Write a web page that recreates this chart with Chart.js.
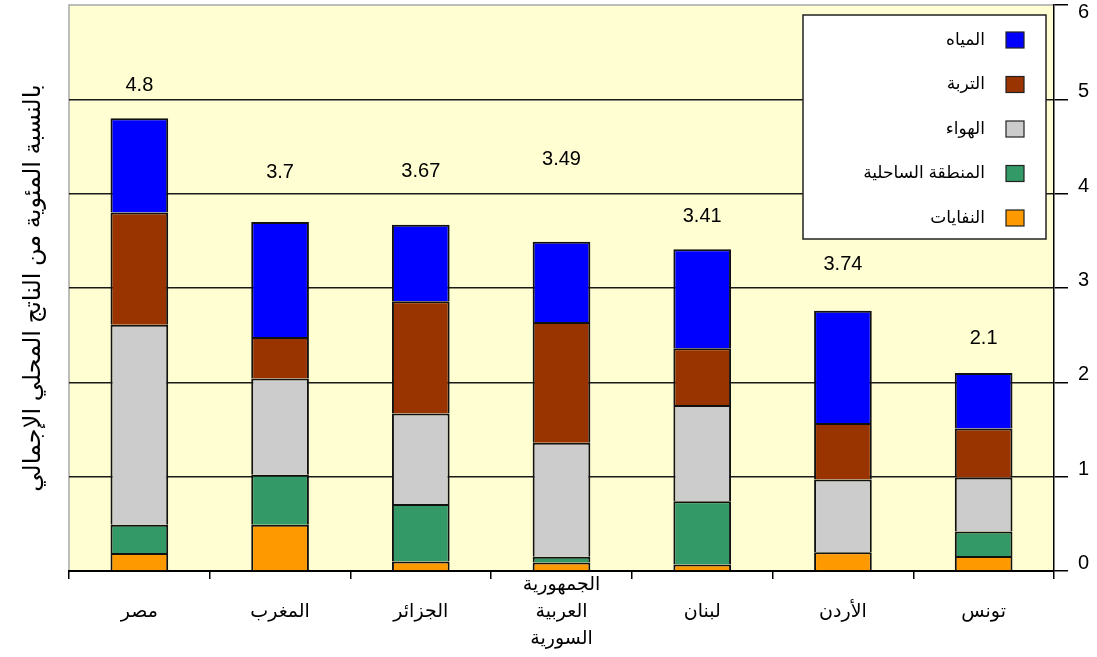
<!DOCTYPE html>
<html lang="ar">
<head>
<meta charset="utf-8">
<title>تكلفة التدهور البيئي</title>
<script src="https://cdn.jsdelivr.net/npm/chart.js@4.4.1/dist/chart.umd.min.js"></script>
<style>
  html, body { margin: 0; padding: 0; background: #fff; }
  #wrap { position: relative; width: 1097px; height: 657px; }
</style>
</head>
<body>
<div id="wrap"><canvas id="cost"></canvas></div>
<script>
// categories, bottom-to-top stack segments and the totals printed above the bars
const countries = ['مصر', 'المغرب', 'الجزائر', ['الجمهورية', 'العربية', 'السورية'], 'لبنان', 'الأردن', 'تونس'];
const waste   = [0.19, 0.49, 0.10, 0.09, 0.07, 0.20, 0.16];
const coastal = [0.30, 0.53, 0.61, 0.06, 0.67, 0.00, 0.26];
const air     = [2.12, 1.02, 0.96, 1.21, 1.02, 0.77, 0.57];
const soil    = [1.19, 0.44, 1.19, 1.28, 0.60, 0.60, 0.52];
const water   = [1.00, 1.22, 0.81, 0.85, 1.05, 1.19, 0.59];
const totalText = ['4.8', '3.7', '3.67', '3.49', '3.41', '3.74', '2.1'];
const totalAt   = [5.15, 4.22, 4.24, 4.36, 3.76, 3.25, 2.47];   // axis value where each total is written
const yTicks = [0, 1, 2, 3, 4, 5, 6];

const FONT = '"Liberation Sans", "DejaVu Sans", sans-serif';
Chart.defaults.font.family = FONT;
Chart.defaults.color = '#000';

const plotBackground = {
  id: 'plotBackground',
  beforeDraw(chart) {
    const { ctx, chartArea: a } = chart;
    ctx.save();
    ctx.fillStyle = '#FFFDD2';
    ctx.fillRect(a.left, a.top, a.right - a.left, a.bottom - a.top);
    ctx.strokeStyle = '#A8A8A8';
    ctx.lineWidth = 1.5;
    ctx.beginPath();
    ctx.moveTo(a.left, a.bottom);
    ctx.lineTo(a.left, a.top);
    ctx.lineTo(a.right, a.top);
    ctx.stroke();
    ctx.restore();
  }
};

const totalLabels = {
  id: 'totalLabels',
  afterDatasetsDraw(chart) {
    const { ctx } = chart;
    const meta = chart.getDatasetMeta(chart.data.datasets.length - 1);
    const y = chart.scales.y;
    ctx.save();
    ctx.font = '20px ' + FONT;
    ctx.fillStyle = '#000';
    ctx.textAlign = 'center';
    ctx.textBaseline = 'middle';
    meta.data.forEach((bar, i) => ctx.fillText(totalText[i], bar.x, y.getPixelForValue(totalAt[i])));
    ctx.restore();
  }
};

// boxed legend in the upper right corner of the plot, water on top
const boxLegend = {
  id: 'boxLegend',
  afterDraw(chart) {
    const { ctx, chartArea: a } = chart;
    const right = a.right - 8, top = a.top + 10, w = 243, h = 224;
    ctx.save();
    ctx.fillStyle = '#fff';
    ctx.fillRect(right - w, top, w, h);
    ctx.strokeStyle = '#222';
    ctx.lineWidth = 1.5;
    ctx.strokeRect(right - w, top, w, h);
    ctx.font = '17px ' + FONT;
    ctx.textAlign = 'right';
    ctx.textBaseline = 'middle';
    chart.data.datasets.slice().reverse().forEach((ds, i) => {
      const cy = top + 25 + i * 44.5;
      ctx.fillStyle = ds.backgroundColor;
      ctx.fillRect(right - 40, cy - 8, 18, 16);
      ctx.lineWidth = 1.2;
      ctx.strokeRect(right - 40, cy - 8, 18, 16);
      ctx.fillStyle = '#000';
      ctx.fillText(ds.label, right - 61, cy);
    });
    ctx.restore();
  }
};

function segment(label, data, color) {
  return {
    label, data,
    backgroundColor: color,
    borderColor: '#111',
    borderWidth: 2,
    barPercentage: 0.41,
    categoryPercentage: 1
  };
}

new Chart(document.getElementById('cost'), {
  type: 'bar',
  data: {
    labels: countries,
    datasets: [
      segment('النفايات', waste, '#FF9900'),
      segment('المنطقة الساحلية', coastal, '#339966'),
      segment('الهواء', air, '#CCCCCC'),
      segment('التربة', soil, '#993300'),
      segment('المياه', water, '#0000FF')
    ]
  },
  options: {
    responsive: true,
    maintainAspectRatio: false,
    animation: false,
    layout: { padding: { top: 5, left: 0, right: 0, bottom: 0 } },
    plugins: {
      legend: { display: false },
      tooltip: { enabled: false }
    },
    scales: {
      x: {
        stacked: true,
        afterFit(s) { s.height = 86; s.paddingLeft = 0; s.paddingRight = 0; },
        border: { color: '#000', width: 2 },
        grid: { drawOnChartArea: false, drawTicks: true, tickLength: 8, color: '#000', lineWidth: 1.5, offset: true },
        ticks: {
          autoSkip: false,
          maxRotation: 0,
          padding: 6,
          crossAlign: 'center',
          font: { size: 19, lineHeight: 1.42 }
        }
      },
      y: {
        stacked: true,
        position: 'right',
        min: 0,
        max: 6,
        afterBuildTicks(s) { s.ticks = yTicks.map(v => ({ value: v })); },
        afterFit(s) { s.width = 43; s.paddingTop = 0; s.paddingBottom = 0; },
        border: { color: '#000', width: 1.5 },
        grid: {
          color: c => (c.tick && c.tick.value === 6 ? 'rgba(0,0,0,0)' : '#1a1a1a'),
          tickColor: '#000',
          lineWidth: 1.5,
          tickLength: 14
        },
        ticks: {
          padding: 10,
          font: { size: 20, lineHeight: 0.75 },
          // an empty second line lifts the digit half a line above its tick; the top one is pushed below
          callback: v => (v === 6 ? ['', '6'] : [String(v), ''])
        }
      },
      yTitle: {
        type: 'linear',
        position: 'left',
        afterFit(s) { s.width = 69; },
        grid: { display: false },
        border: { display: false },
        ticks: { display: false },
        title: {
          display: true,
          text: 'بالنسبة المئوية من الناتج المحلي الإجمالي',
          font: { size: 24 },
          padding: { top: 19, bottom: 0 }
        }
      }
    }
  },
  plugins: [plotBackground, totalLabels, boxLegend]
});
</script>
</body>
</html>
